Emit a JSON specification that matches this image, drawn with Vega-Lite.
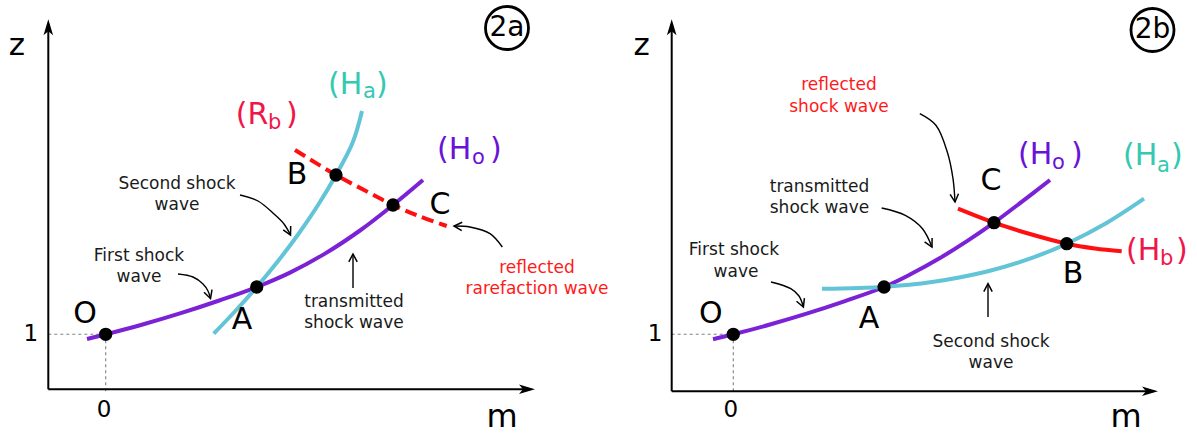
{
  "$schema": "https://vega.github.io/schema/vega-lite/v6.json",
  "padding": 0,
  "spacing": 0,
  "bounds": "flush",
  "config": {"view": {"stroke": null}, "font": "DejaVu Sans"},
  "datasets": {
    "curves": [
      {"panel": "a", "id": "Ho", "i": 0, "m": -0.374, "z": 0.906},
      {"panel": "a", "id": "Ho", "i": 1, "m": 0, "z": 1},
      {"panel": "a", "id": "Ho", "i": 2, "m": 0.686, "z": 1.182},
      {"panel": "a", "id": "Ho", "i": 3, "m": 1.486, "z": 1.418},
      {"panel": "a", "id": "Ho", "i": 4, "m": 2.286, "z": 1.681},
      {"panel": "a", "id": "Ho", "i": 5, "m": 3.02, "z": 1.946},
      {"panel": "a", "id": "Ho", "i": 6, "m": 3.686, "z": 2.234},
      {"panel": "a", "id": "Ho", "i": 7, "m": 4.386, "z": 2.614},
      {"panel": "a", "id": "Ho", "i": 8, "m": 5.086, "z": 3.076},
      {"panel": "a", "id": "Ho", "i": 9, "m": 5.746, "z": 3.586},
      {"panel": "a", "id": "Ho", "i": 10, "m": 6.346, "z": 4.086},
      {"panel": "a", "id": "Ha", "i": 0, "m": 2.16, "z": 1.012},
      {"panel": "a", "id": "Ha", "i": 1, "m": 2.574, "z": 1.446},
      {"panel": "a", "id": "Ha", "i": 2, "m": 3.02, "z": 1.946},
      {"panel": "a", "id": "Ha", "i": 3, "m": 3.432, "z": 2.446},
      {"panel": "a", "id": "Ha", "i": 4, "m": 3.84, "z": 2.986},
      {"panel": "a", "id": "Ha", "i": 5, "m": 4.222, "z": 3.546},
      {"panel": "a", "id": "Ha", "i": 6, "m": 4.606, "z": 4.186},
      {"panel": "a", "id": "Ha", "i": 7, "m": 4.944, "z": 4.846},
      {"panel": "a", "id": "Ha", "i": 8, "m": 5.126, "z": 5.466},
      {"panel": "a", "id": "Rb", "i": 0, "m": 3.786, "z": 4.686},
      {"panel": "a", "id": "Rb", "i": 1, "m": 4.606, "z": 4.186},
      {"panel": "a", "id": "Rb", "i": 2, "m": 5.186, "z": 3.876},
      {"panel": "a", "id": "Rb", "i": 3, "m": 5.746, "z": 3.586},
      {"panel": "a", "id": "Rb", "i": 4, "m": 6.286, "z": 3.356},
      {"panel": "a", "id": "Rb", "i": 5, "m": 6.82, "z": 3.166},
      {"panel": "b", "id": "Ho", "i": 0, "m": -0.406, "z": 0.902},
      {"panel": "b", "id": "Ho", "i": 1, "m": 0, "z": 1},
      {"panel": "b", "id": "Ho", "i": 2, "m": 0.734, "z": 1.195},
      {"panel": "b", "id": "Ho", "i": 3, "m": 1.434, "z": 1.402},
      {"panel": "b", "id": "Ho", "i": 4, "m": 2.234, "z": 1.664},
      {"panel": "b", "id": "Ho", "i": 5, "m": 3.014, "z": 1.946},
      {"panel": "b", "id": "Ho", "i": 6, "m": 3.534, "z": 2.196},
      {"panel": "b", "id": "Ho", "i": 7, "m": 4.134, "z": 2.526},
      {"panel": "b", "id": "Ho", "i": 8, "m": 4.674, "z": 2.862},
      {"panel": "b", "id": "Ho", "i": 9, "m": 5.214, "z": 3.232},
      {"panel": "b", "id": "Ho", "i": 10, "m": 5.774, "z": 3.654},
      {"panel": "b", "id": "Ho", "i": 11, "m": 6.334, "z": 4.086},
      {"panel": "b", "id": "Ha", "i": 0, "m": 1.774, "z": 1.912},
      {"panel": "b", "id": "Ha", "i": 1, "m": 3.014, "z": 1.948},
      {"panel": "b", "id": "Ha", "i": 2, "m": 3.974, "z": 2.044},
      {"panel": "b", "id": "Ha", "i": 3, "m": 5.094, "z": 2.26},
      {"panel": "b", "id": "Ha", "i": 4, "m": 5.974, "z": 2.528},
      {"panel": "b", "id": "Ha", "i": 5, "m": 6.668, "z": 2.812},
      {"panel": "b", "id": "Ha", "i": 6, "m": 7.474, "z": 3.232},
      {"panel": "b", "id": "Ha", "i": 7, "m": 8.214, "z": 3.712},
      {"panel": "b", "id": "Hb", "i": 0, "m": 4.494, "z": 3.512},
      {"panel": "b", "id": "Hb", "i": 1, "m": 5.214, "z": 3.232},
      {"panel": "b", "id": "Hb", "i": 2, "m": 5.934, "z": 3.006},
      {"panel": "b", "id": "Hb", "i": 3, "m": 6.668, "z": 2.812},
      {"panel": "b", "id": "Hb", "i": 4, "m": 7.234, "z": 2.716},
      {"panel": "b", "id": "Hb", "i": 5, "m": 7.768, "z": 2.66}
    ],
    "shafts": [
      {"panel": "a", "id": "s2", "i": 0, "m": 2.686, "z": 3.786},
      {"panel": "a", "id": "s2", "i": 1, "m": 3.046, "z": 3.666},
      {"panel": "a", "id": "s2", "i": 2, "m": 3.366, "z": 3.406},
      {"panel": "a", "id": "s2", "i": 3, "m": 3.566, "z": 3.206},
      {"panel": "a", "id": "s2", "i": 4, "m": 3.696, "z": 2.986},
      {"panel": "a", "id": "s1", "i": 0, "m": 1.446, "z": 2.206},
      {"panel": "a", "id": "s1", "i": 1, "m": 1.746, "z": 2.146},
      {"panel": "a", "id": "s1", "i": 2, "m": 1.946, "z": 2.006},
      {"panel": "a", "id": "s1", "i": 3, "m": 2.046, "z": 1.866},
      {"panel": "a", "id": "s1", "i": 4, "m": 2.096, "z": 1.716},
      {"panel": "a", "id": "tr", "i": 0, "m": 4.946, "z": 1.926},
      {"panel": "a", "id": "tr", "i": 1, "m": 4.946, "z": 2.606},
      {"panel": "a", "id": "rf", "i": 0, "m": 7.932, "z": 2.746},
      {"panel": "a", "id": "rf", "i": 1, "m": 7.686, "z": 3.012},
      {"panel": "a", "id": "rf", "i": 2, "m": 7.286, "z": 3.146},
      {"panel": "a", "id": "rf", "i": 3, "m": 6.966, "z": 3.166},
      {"panel": "b", "id": "rf", "i": 0, "m": 3.73, "z": 5.412},
      {"panel": "b", "id": "rf", "i": 1, "m": 4.052, "z": 5.18},
      {"panel": "b", "id": "rf", "i": 2, "m": 4.28, "z": 4.646},
      {"panel": "b", "id": "rf", "i": 3, "m": 4.394, "z": 4.112},
      {"panel": "b", "id": "rf", "i": 4, "m": 4.434, "z": 3.646},
      {"panel": "b", "id": "tr", "i": 0, "m": 2.968, "z": 3.526},
      {"panel": "b", "id": "tr", "i": 1, "m": 3.44, "z": 3.38},
      {"panel": "b", "id": "tr", "i": 2, "m": 3.784, "z": 3.112},
      {"panel": "b", "id": "tr", "i": 3, "m": 3.974, "z": 2.746},
      {"panel": "b", "id": "s1", "i": 0, "m": 0.754, "z": 2.046},
      {"panel": "b", "id": "s1", "i": 1, "m": 1.15, "z": 1.912},
      {"panel": "b", "id": "s1", "i": 2, "m": 1.314, "z": 1.766},
      {"panel": "b", "id": "s1", "i": 3, "m": 1.402, "z": 1.546},
      {"panel": "b", "id": "s2", "i": 0, "m": 5.094, "z": 1.346},
      {"panel": "b", "id": "s2", "i": 1, "m": 5.094, "z": 2.012}
    ],
    "heads": [
      {"panel": "a", "id": "s2", "i": 0, "m": 3.7, "z": 3.166},
      {"panel": "a", "id": "s2", "i": 1, "m": 3.696, "z": 2.986},
      {"panel": "a", "id": "s2", "i": 2, "m": 3.55, "z": 3.09},
      {"panel": "a", "id": "s1", "i": 0, "m": 2.126, "z": 1.894},
      {"panel": "a", "id": "s1", "i": 1, "m": 2.096, "z": 1.716},
      {"panel": "a", "id": "s1", "i": 2, "m": 1.966, "z": 1.84},
      {"panel": "a", "id": "tr", "i": 0, "m": 4.862, "z": 2.448},
      {"panel": "a", "id": "tr", "i": 1, "m": 4.946, "z": 2.606},
      {"panel": "a", "id": "tr", "i": 2, "m": 5.03, "z": 2.448},
      {"panel": "a", "id": "rf", "i": 0, "m": 7.12, "z": 3.072},
      {"panel": "a", "id": "rf", "i": 1, "m": 6.966, "z": 3.166},
      {"panel": "a", "id": "rf", "i": 2, "m": 7.13, "z": 3.24},
      {"panel": "b", "id": "rf", "i": 0, "m": 4.504, "z": 3.812},
      {"panel": "b", "id": "rf", "i": 1, "m": 4.434, "z": 3.646},
      {"panel": "b", "id": "rf", "i": 2, "m": 4.336, "z": 3.798},
      {"panel": "b", "id": "tr", "i": 0, "m": 3.976, "z": 2.926},
      {"panel": "b", "id": "tr", "i": 1, "m": 3.974, "z": 2.746},
      {"panel": "b", "id": "tr", "i": 2, "m": 3.826, "z": 2.848},
      {"panel": "b", "id": "s1", "i": 0, "m": 1.422, "z": 1.724},
      {"panel": "b", "id": "s1", "i": 1, "m": 1.402, "z": 1.546},
      {"panel": "b", "id": "s1", "i": 2, "m": 1.264, "z": 1.662},
      {"panel": "b", "id": "s2", "i": 0, "m": 5.01, "z": 1.854},
      {"panel": "b", "id": "s2", "i": 1, "m": 5.094, "z": 2.012},
      {"panel": "b", "id": "s2", "i": 2, "m": 5.178, "z": 1.854}
    ],
    "axes": [
      {"panel": "a", "id": "zax", "i": 0, "m": -1.148, "z": -0.1},
      {"panel": "a", "id": "zax", "i": 1, "m": -1.148, "z": 7.206},
      {"panel": "a", "id": "max", "i": 0, "m": -1.148, "z": -0.1},
      {"panel": "a", "id": "max", "i": 1, "m": 8.486, "z": -0.1},
      {"panel": "b", "id": "zax", "i": 0, "m": -1.232, "z": -0.14},
      {"panel": "b", "id": "zax", "i": 1, "m": -1.232, "z": 7.206},
      {"panel": "b", "id": "max", "i": 0, "m": -1.232, "z": -0.14},
      {"panel": "b", "id": "max", "i": 1, "m": 8.394, "z": -0.14}
    ],
    "guides": [
      {"panel": "a", "id": "h", "i": 0, "m": -1.148, "z": 1},
      {"panel": "a", "id": "h", "i": 1, "m": 0, "z": 1},
      {"panel": "a", "id": "v", "i": 0, "m": 0, "z": 1},
      {"panel": "a", "id": "v", "i": 1, "m": 0, "z": -0.154},
      {"panel": "b", "id": "h", "i": 0, "m": -1.232, "z": 1},
      {"panel": "b", "id": "h", "i": 1, "m": 0, "z": 1},
      {"panel": "b", "id": "v", "i": 0, "m": 0, "z": 1},
      {"panel": "b", "id": "v", "i": 1, "m": 0, "z": -0.194}
    ],
    "tips": [
      {"panel": "a", "dir": "up", "m": -1.148, "z": 7.14},
      {"panel": "a", "dir": "right", "m": 8.426, "z": -0.1},
      {"panel": "b", "dir": "up", "m": -1.232, "z": 7.14},
      {"panel": "b", "dir": "right", "m": 8.334, "z": -0.14}
    ],
    "dots": [
      {"panel": "a", "name": "O", "m": 0, "z": 1},
      {"panel": "a", "name": "A", "m": 3.02, "z": 1.946},
      {"panel": "a", "name": "B", "m": 4.606, "z": 4.186},
      {"panel": "a", "name": "C", "m": 5.746, "z": 3.586},
      {"panel": "b", "name": "O", "m": 0, "z": 1},
      {"panel": "b", "name": "A", "m": 3.014, "z": 1.946},
      {"panel": "b", "name": "C", "m": 5.214, "z": 3.232},
      {"panel": "b", "name": "B", "m": 6.668, "z": 2.812}
    ],
    "tags": [
      {"panel": "a", "label": "2a", "m": 8.026, "z": 7.126},
      {"panel": "b", "label": "2b", "m": 8.384, "z": 7.086}
    ],
    "letters": [
      {"panel": "a", "label": "O", "m": -0.414, "z": 1.406},
      {"panel": "a", "label": "A", "m": 2.726, "z": 1.286},
      {"panel": "a", "label": "B", "m": 3.826, "z": 4.186},
      {"panel": "a", "label": "C", "m": 6.686, "z": 3.586},
      {"panel": "b", "label": "O", "m": -0.452, "z": 1.406},
      {"panel": "b", "label": "A", "m": 2.714, "z": 1.306},
      {"panel": "b", "label": "C", "m": 5.154, "z": 4.066},
      {"panel": "b", "label": "B", "m": 6.794, "z": 2.206}
    ],
    "axislabels": [
      {"panel": "a", "role": "z", "label": "z", "m": -1.774, "z": 6.766},
      {"panel": "a", "role": "m", "label": "m", "m": 7.926, "z": -0.654},
      {"panel": "a", "role": "tick", "label": "1", "m": -1.5, "z": 1.012},
      {"panel": "a", "role": "tick", "label": "0", "m": -0.034, "z": -0.514},
      {"panel": "b", "role": "z", "label": "z", "m": -1.832, "z": 6.766},
      {"panel": "b", "role": "m", "label": "m", "m": 7.854, "z": -0.654},
      {"panel": "b", "role": "tick", "label": "1", "m": -1.566, "z": 1.012},
      {"panel": "b", "role": "tick", "label": "0", "m": -0.052, "z": -0.52}
    ],
    "notes": [
      {"panel": "a", "tone": "black", "label": "Second shock", "m": 1.426, "z": 4.006},
      {"panel": "a", "tone": "black", "label": "wave", "m": 1.426, "z": 3.586},
      {"panel": "a", "tone": "black", "label": "First shock", "m": 0.666, "z": 2.566},
      {"panel": "a", "tone": "black", "label": "wave", "m": 0.666, "z": 2.146},
      {"panel": "a", "tone": "black", "label": "transmitted", "m": 4.966, "z": 1.646},
      {"panel": "a", "tone": "black", "label": "shock wave", "m": 4.966, "z": 1.226},
      {"panel": "a", "tone": "red", "label": "reflected", "m": 8.626, "z": 2.326},
      {"panel": "a", "tone": "red", "label": "rarefaction wave", "m": 8.626, "z": 1.906},
      {"panel": "b", "tone": "black", "label": "transmitted", "m": 1.724, "z": 3.946},
      {"panel": "b", "tone": "black", "label": "shock wave", "m": 1.724, "z": 3.526},
      {"panel": "b", "tone": "black", "label": "First shock", "m": 0.014, "z": 2.686},
      {"panel": "b", "tone": "black", "label": "wave", "m": 0.054, "z": 2.246},
      {"panel": "b", "tone": "black", "label": "Second shock", "m": 5.154, "z": 0.846},
      {"panel": "b", "tone": "black", "label": "wave", "m": 5.154, "z": 0.426},
      {"panel": "b", "tone": "red", "label": "reflected", "m": 2.114, "z": 5.986},
      {"panel": "b", "tone": "red", "label": "shock wave", "m": 2.114, "z": 5.546}
    ],
    "hlabels": [
      {"panel": "a", "curve": "Rb", "part": "main", "label": "(R", "m": 2.6, "z": 5.206},
      {"panel": "a", "curve": "Rb", "part": "sub", "label": "b", "m": 3.246, "z": 5.106},
      {"panel": "a", "curve": "Rb", "part": "main", "label": ")", "m": 3.606, "z": 5.206},
      {"panel": "a", "curve": "Ha", "part": "main", "label": "(H", "m": 4.446, "z": 5.812},
      {"panel": "a", "curve": "Ha", "part": "sub", "label": "a", "m": 5.146, "z": 5.726},
      {"panel": "a", "curve": "Ha", "part": "main", "label": ")", "m": 5.406, "z": 5.812},
      {"panel": "a", "curve": "Ho", "part": "main", "label": "(H", "m": 6.626, "z": 4.506},
      {"panel": "a", "curve": "Ho", "part": "sub", "label": "o", "m": 7.326, "z": 4.406},
      {"panel": "a", "curve": "Ho", "part": "main", "label": ")", "m": 7.686, "z": 4.506},
      {"panel": "b", "curve": "Ho", "part": "main", "label": "(H", "m": 5.694, "z": 4.412},
      {"panel": "b", "curve": "Ho", "part": "sub", "label": "o", "m": 6.374, "z": 4.312},
      {"panel": "b", "curve": "Ho", "part": "main", "label": ")", "m": 6.754, "z": 4.412},
      {"panel": "b", "curve": "Ha", "part": "main", "label": "(H", "m": 7.794, "z": 4.38},
      {"panel": "b", "curve": "Ha", "part": "sub", "label": "a", "m": 8.474, "z": 4.246},
      {"panel": "b", "curve": "Ha", "part": "main", "label": ")", "m": 8.754, "z": 4.38},
      {"panel": "b", "curve": "Hb", "part": "main", "label": "(H", "m": 7.854, "z": 2.48},
      {"panel": "b", "curve": "Hb", "part": "sub", "label": "b", "m": 8.534, "z": 2.38},
      {"panel": "b", "curve": "Hb", "part": "main", "label": ")", "m": 8.854, "z": 2.48}
    ]
  },
  "hconcat": [
    {
      "width": 620,
      "height": 434,
      "encoding": {
        "x": {"field": "m", "type": "quantitative", "scale": {"domain": [-2.114, 10.286], "nice": false, "zero": false}, "axis": null},
        "y": {"field": "z", "type": "quantitative", "scale": {"domain": [-1.034, 7.646], "nice": false, "zero": false}, "axis": null}
      },
      "resolve": {"scale": {"color": "independent"}},
      "layer": [
        {"data": {"name": "guides"}, "transform": [{"filter": "datum.panel === 'a'"}], "mark": {"type": "line", "color": "#808080", "strokeWidth": 1.1, "strokeDash": [3, 3]}, "encoding": {"detail": {"field": "id"}, "order": {"field": "i"}}},
        {"data": {"name": "axes"}, "transform": [{"filter": "datum.panel === 'a'"}], "mark": {"type": "line", "color": "#000000", "strokeWidth": 2}, "encoding": {"detail": {"field": "id"}, "order": {"field": "i"}}},
        {"data": {"name": "tips"}, "transform": [{"filter": "datum.panel === 'a' && datum.dir === 'up'"}], "mark": {"type": "point", "shape": "M0,-1L0.6,1L0,0.5L-0.6,1Z", "filled": true, "color": "#000000", "size": 256, "opacity": 1}, "encoding": {}},
        {"data": {"name": "tips"}, "transform": [{"filter": "datum.panel === 'a' && datum.dir === 'right'"}], "mark": {"type": "point", "shape": "M1,0L-1,0.6L-0.5,0L-1,-0.6Z", "filled": true, "color": "#000000", "size": 256, "opacity": 1}, "encoding": {}},
        {"data": {"name": "curves"}, "transform": [{"filter": "datum.panel === 'a' && datum.id !== 'Rb'"}], "mark": {"type": "line", "strokeWidth": 4, "interpolate": "catmull-rom"}, "encoding": {"color": {"field": "id", "type": "nominal", "scale": {"domain": ["Ho", "Ha", "Hb"], "range": ["#7b22d6", "#62c4d6", "#ff1010"]}, "legend": null}, "order": {"field": "i"}}},
        {"data": {"name": "curves"}, "transform": [{"filter": "datum.panel === 'a' && datum.id === 'Rb'"}], "mark": {"type": "line", "strokeWidth": 4, "color": "#ff1010", "strokeDash": [12, 6], "interpolate": "catmull-rom"}, "encoding": {"order": {"field": "i"}}},
        {"data": {"name": "shafts"}, "transform": [{"filter": "datum.panel === 'a'"}], "mark": {"type": "line", "color": "#000000", "strokeWidth": 1.4, "interpolate": "catmull-rom"}, "encoding": {"detail": {"field": "id"}, "order": {"field": "i"}}},
        {"data": {"name": "heads"}, "transform": [{"filter": "datum.panel === 'a'"}], "mark": {"type": "line", "color": "#000000", "strokeWidth": 1.5}, "encoding": {"detail": {"field": "id"}, "order": {"field": "i"}}},
        {"data": {"name": "dots"}, "transform": [{"filter": "datum.panel === 'a'"}], "mark": {"type": "point", "shape": "circle", "filled": true, "color": "#000000", "size": 177, "opacity": 1}, "encoding": {}},
        {"data": {"name": "tags"}, "transform": [{"filter": "datum.panel === 'a'"}], "mark": {"type": "point", "shape": "circle", "filled": false, "color": "#000000", "strokeWidth": 2.8, "size": 1850, "opacity": 1}, "encoding": {}},
        {"data": {"name": "tags"}, "transform": [{"filter": "datum.panel === 'a'"}], "mark": {"type": "text", "fontSize": 28, "color": "#000000", "align": "center", "baseline": "middle"}, "encoding": {"text": {"field": "label"}}},
        {"data": {"name": "letters"}, "transform": [{"filter": "datum.panel === 'a'"}], "mark": {"type": "text", "fontSize": 30, "color": "#000000", "align": "center", "baseline": "middle"}, "encoding": {"text": {"field": "label"}}},
        {"data": {"name": "axislabels"}, "transform": [{"filter": "datum.panel === 'a' && datum.role === 'z'"}], "mark": {"type": "text", "fontSize": 31, "color": "#000000", "align": "center", "baseline": "middle"}, "encoding": {"text": {"field": "label"}}},
        {"data": {"name": "axislabels"}, "transform": [{"filter": "datum.panel === 'a' && datum.role === 'm'"}], "mark": {"type": "text", "fontSize": 32, "color": "#000000", "align": "center", "baseline": "middle"}, "encoding": {"text": {"field": "label"}}},
        {"data": {"name": "axislabels"}, "transform": [{"filter": "datum.panel === 'a' && datum.role === 'tick'"}], "mark": {"type": "text", "fontSize": 23, "color": "#000000", "align": "center", "baseline": "middle"}, "encoding": {"text": {"field": "label"}}},
        {"data": {"name": "notes"}, "transform": [{"filter": "datum.panel === 'a'"}], "mark": {"type": "text", "fontSize": 17, "align": "center", "baseline": "middle"}, "encoding": {"text": {"field": "label"}, "color": {"field": "tone", "type": "nominal", "scale": {"domain": ["black", "red"], "range": ["#1a1a1a", "#ff1a1a"]}, "legend": null}}},
        {"data": {"name": "hlabels"}, "transform": [{"filter": "datum.panel === 'a' && datum.part === 'main'"}], "mark": {"type": "text", "fontSize": 30, "align": "left", "baseline": "alphabetic"}, "encoding": {"text": {"field": "label"}, "color": {"field": "curve", "type": "nominal", "scale": {"domain": ["Ho", "Ha", "Rb", "Hb"], "range": ["#6a12d8", "#33c9b2", "#f0164a", "#f0164a"]}, "legend": null}}},
        {"data": {"name": "hlabels"}, "transform": [{"filter": "datum.panel === 'a' && datum.part === 'sub'"}], "mark": {"type": "text", "fontSize": 21, "align": "left", "baseline": "alphabetic"}, "encoding": {"text": {"field": "label"}, "color": {"field": "curve", "type": "nominal", "scale": {"domain": ["Ho", "Ha", "Rb", "Hb"], "range": ["#6a12d8", "#33c9b2", "#f0164a", "#f0164a"]}, "legend": null}}}
      ]
    },
    {
      "width": 577,
      "height": 434,
      "encoding": {
        "x": {"field": "m", "type": "quantitative", "scale": {"domain": [-2.266, 9.274], "nice": false, "zero": false}, "axis": null},
        "y": {"field": "z", "type": "quantitative", "scale": {"domain": [-1.034, 7.646], "nice": false, "zero": false}, "axis": null}
      },
      "resolve": {"scale": {"color": "independent"}},
      "layer": [
        {"data": {"name": "guides"}, "transform": [{"filter": "datum.panel === 'b'"}], "mark": {"type": "line", "color": "#808080", "strokeWidth": 1.1, "strokeDash": [3, 3]}, "encoding": {"detail": {"field": "id"}, "order": {"field": "i"}}},
        {"data": {"name": "axes"}, "transform": [{"filter": "datum.panel === 'b'"}], "mark": {"type": "line", "color": "#000000", "strokeWidth": 2}, "encoding": {"detail": {"field": "id"}, "order": {"field": "i"}}},
        {"data": {"name": "tips"}, "transform": [{"filter": "datum.panel === 'b' && datum.dir === 'up'"}], "mark": {"type": "point", "shape": "M0,-1L0.6,1L0,0.5L-0.6,1Z", "filled": true, "color": "#000000", "size": 256, "opacity": 1}, "encoding": {}},
        {"data": {"name": "tips"}, "transform": [{"filter": "datum.panel === 'b' && datum.dir === 'right'"}], "mark": {"type": "point", "shape": "M1,0L-1,0.6L-0.5,0L-1,-0.6Z", "filled": true, "color": "#000000", "size": 256, "opacity": 1}, "encoding": {}},
        {"data": {"name": "curves"}, "transform": [{"filter": "datum.panel === 'b'"}], "mark": {"type": "line", "strokeWidth": 4, "interpolate": "catmull-rom"}, "encoding": {"color": {"field": "id", "type": "nominal", "scale": {"domain": ["Ho", "Ha", "Hb"], "range": ["#7b22d6", "#62c4d6", "#ff1010"]}, "legend": null}, "order": {"field": "i"}}},
        {"data": {"name": "shafts"}, "transform": [{"filter": "datum.panel === 'b'"}], "mark": {"type": "line", "color": "#000000", "strokeWidth": 1.4, "interpolate": "catmull-rom"}, "encoding": {"detail": {"field": "id"}, "order": {"field": "i"}}},
        {"data": {"name": "heads"}, "transform": [{"filter": "datum.panel === 'b'"}], "mark": {"type": "line", "color": "#000000", "strokeWidth": 1.5}, "encoding": {"detail": {"field": "id"}, "order": {"field": "i"}}},
        {"data": {"name": "dots"}, "transform": [{"filter": "datum.panel === 'b'"}], "mark": {"type": "point", "shape": "circle", "filled": true, "color": "#000000", "size": 177, "opacity": 1}, "encoding": {}},
        {"data": {"name": "tags"}, "transform": [{"filter": "datum.panel === 'b'"}], "mark": {"type": "point", "shape": "circle", "filled": false, "color": "#000000", "strokeWidth": 2.8, "size": 1850, "opacity": 1}, "encoding": {}},
        {"data": {"name": "tags"}, "transform": [{"filter": "datum.panel === 'b'"}], "mark": {"type": "text", "fontSize": 28, "color": "#000000", "align": "center", "baseline": "middle"}, "encoding": {"text": {"field": "label"}}},
        {"data": {"name": "letters"}, "transform": [{"filter": "datum.panel === 'b'"}], "mark": {"type": "text", "fontSize": 30, "color": "#000000", "align": "center", "baseline": "middle"}, "encoding": {"text": {"field": "label"}}},
        {"data": {"name": "axislabels"}, "transform": [{"filter": "datum.panel === 'b' && datum.role === 'z'"}], "mark": {"type": "text", "fontSize": 31, "color": "#000000", "align": "center", "baseline": "middle"}, "encoding": {"text": {"field": "label"}}},
        {"data": {"name": "axislabels"}, "transform": [{"filter": "datum.panel === 'b' && datum.role === 'm'"}], "mark": {"type": "text", "fontSize": 32, "color": "#000000", "align": "center", "baseline": "middle"}, "encoding": {"text": {"field": "label"}}},
        {"data": {"name": "axislabels"}, "transform": [{"filter": "datum.panel === 'b' && datum.role === 'tick'"}], "mark": {"type": "text", "fontSize": 23, "color": "#000000", "align": "center", "baseline": "middle"}, "encoding": {"text": {"field": "label"}}},
        {"data": {"name": "notes"}, "transform": [{"filter": "datum.panel === 'b'"}], "mark": {"type": "text", "fontSize": 17, "align": "center", "baseline": "middle"}, "encoding": {"text": {"field": "label"}, "color": {"field": "tone", "type": "nominal", "scale": {"domain": ["black", "red"], "range": ["#1a1a1a", "#ff1a1a"]}, "legend": null}}},
        {"data": {"name": "hlabels"}, "transform": [{"filter": "datum.panel === 'b' && datum.part === 'main'"}], "mark": {"type": "text", "fontSize": 30, "align": "left", "baseline": "alphabetic"}, "encoding": {"text": {"field": "label"}, "color": {"field": "curve", "type": "nominal", "scale": {"domain": ["Ho", "Ha", "Rb", "Hb"], "range": ["#6a12d8", "#33c9b2", "#f0164a", "#f0164a"]}, "legend": null}}},
        {"data": {"name": "hlabels"}, "transform": [{"filter": "datum.panel === 'b' && datum.part === 'sub'"}], "mark": {"type": "text", "fontSize": 21, "align": "left", "baseline": "alphabetic"}, "encoding": {"text": {"field": "label"}, "color": {"field": "curve", "type": "nominal", "scale": {"domain": ["Ho", "Ha", "Rb", "Hb"], "range": ["#6a12d8", "#33c9b2", "#f0164a", "#f0164a"]}, "legend": null}}}
      ]
    }
  ]
}
